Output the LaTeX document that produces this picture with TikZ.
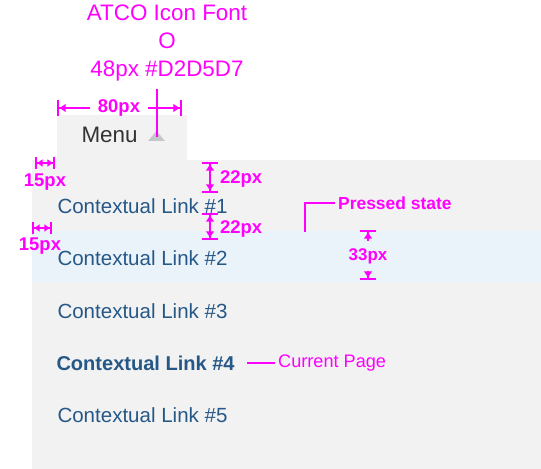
\documentclass[tikz,border=0pt]{standalone}
\usepackage{fontspec}
\setmainfont{Liberation Sans}
\usetikzlibrary{arrows.meta}
\definecolor{annot}{HTML}{FF00FF}
\definecolor{panelgray}{HTML}{F2F2F2}
\definecolor{pressblue}{HTML}{EBF3FA}
\definecolor{linkblue}{RGB}{38,88,135}
\definecolor{menugray}{HTML}{333333}
\definecolor{caretgray}{HTML}{C4C7C9}
\begin{document}
\begin{tikzpicture}[
      x=1bp, y=-1bp,
      link/.style={anchor=west, text=linkblue, font=\fontsize{20.6}{24}\selectfont},
      note/.style={text=annot, inner sep=3pt},
      dimlbl/.style={text=annot, font=\bfseries\fontsize{18.5}{22}\selectfont, inner sep=2pt},
      dim/.style={draw=annot, line width=1.7pt,
                  {Bar[width=17pt]Latex[length=7pt,width=9pt]}-{Latex[length=7pt,width=9pt]Bar[width=17pt]}},
      smalldim/.style={draw=annot, line width=1.6pt,
                       {Bar[width=13pt]Latex[length=6pt,width=8pt]}-{Latex[length=6pt,width=8pt]Bar[width=13pt]}},
      dimstart/.style={draw=annot, line width=1.7pt, {Bar[width=17pt]Latex[length=7pt,width=9pt]}-},
      dimend/.style={draw=annot, line width=1.7pt, -{Latex[length=7pt,width=9pt]Bar[width=17pt]}},
      pointer/.style={draw=annot, line width=1.7pt}
    ]
    \useasboundingbox (0,0) rectangle (541,469);

    % Menu tab, panel and pressed row.
    \fill[panelgray] (57,115) rectangle (187,161);
    \fill[panelgray] (32,160) rectangle (541,469);
    \fill[pressblue] (32,231) rectangle (541,282);
    \node[anchor=west, text=menugray, font=\fontsize{22.5}{26}\selectfont] (menu) at (78,135) {Menu};
    \fill[caretgray] (148,141) -- (165,141) -- (156.5,131) -- cycle;
    \coordinate (caret) at (157,137);

    % Contextual links.
    \node[link] (link1) at (54,206) {Contextual Link \#1};
    \node[link] (link2) at (54,258) {Contextual Link \#2};
    \node[link] (link3) at (54,311) {Contextual Link \#3};
    \node[link, font=\bfseries\fontsize{20.1}{24}\selectfont] (link4) at (53,363) {Contextual Link \#4};
    \node[link] (link5) at (54,415) {Contextual Link \#5};

    % Icon callout.
    \node[note, align=center, font=\fontsize{22.5}{28}\selectfont] (icon) at (167,43)
      {ATCO Icon Font\\O\\48px \#D2D5D7};
    \coordinate (icontop) at (157,89);
    \draw[pointer] (icontop) -- (caret);

    % Tab width.
    \coordinate (w80l) at (57,108);
    \coordinate (w80r) at (182,108);
    \node[dimlbl, inner xsep=8pt] (lbl80) at (119,108) {80px};
    \draw[dimstart] (w80l) -- (lbl80.west);
    \draw[dimend] (lbl80.east) -- (w80r);

    % Left paddings.
    \coordinate (pad1l) at (35,163);
    \coordinate (pad1r) at (55,163);
    \draw[smalldim] (pad1l) -- (pad1r);
    \node[dimlbl] (lbl15a) at (45,182) {15px};
    \coordinate (pad2l) at (32,228);
    \coordinate (pad2r) at (52,228);
    \draw[smalldim] (pad2l) -- (pad2r);
    \node[dimlbl] (lbl15b) at (40,246) {15px};

    % Vertical spacing.
    \coordinate (gap1t) at (210,162);
    \coordinate (gap1b) at (210,193);
    \draw[dim] (gap1t) -- (gap1b);
    \node[dimlbl, anchor=west] (lbl22a) at (218,179) {22px};
    \coordinate (gap2t) at (210,213);
    \coordinate (gap2b) at (210,240);
    \draw[dim] (gap2t) -- (gap2b);
    \node[dimlbl, anchor=west] (lbl22b) at (218,229) {22px};

    % Pressed state and row height.
    \node[note, anchor=west, font=\bfseries\fontsize{17.5}{21}\selectfont] (pressed) at (335,203) {Pressed state};
    \coordinate (pressbot) at (305,232);
    \draw[pointer] (pressed.west) -| (pressbot);
    \coordinate (row33t) at (368,230);
    \coordinate (row33b) at (368,280);
    \node[dimlbl, inner ysep=7pt, font=\bfseries\fontsize{17}{20}\selectfont] (lbl33) at (368,256) {33px};
    \draw[dimstart] (row33t) -- (lbl33.north);
    \draw[dimend] (lbl33.south) -- (row33b);

    % Current page.
    \node[note, anchor=west, font=\fontsize{18.2}{22}\selectfont] (current) at (275,363) {Current Page};
    \draw[pointer] ([xshift=9pt]link4.east) -- (current.west);
  \end{tikzpicture}
\end{document}
